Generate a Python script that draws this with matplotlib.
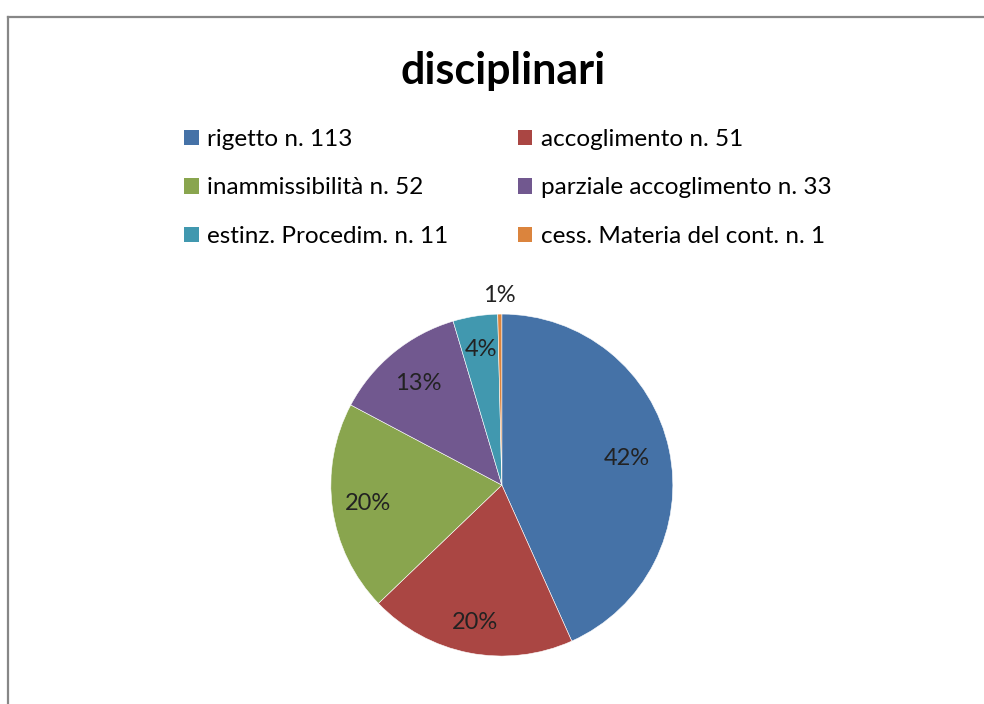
import matplotlib.pyplot as plt
from matplotlib.patches import Patch
from matplotlib.lines import Line2D
import numpy as np

plt.rcParams['font.family'] = ['Lato', 'DejaVu Sans']

labels = ['rigetto n. 113', 'accoglimento n. 51', 'inammissibilità n. 52',
          'parziale accoglimento n. 33', 'estinz. Procedim. n. 11',
          'cess. Materia del cont. n. 1']
values = [113, 51, 52, 33, 11, 1]
pct_labels = ['42%', '20%', '20%', '13%', '4%', '1%']
colors = ['#4572A7', '#AA4643', '#89A54E', '#71588F', '#4198AF', '#DB843D']
label_dist = [0.75, 0.82, 0.79, 0.77, 0.80, 1.11]

fig = plt.figure(figsize=(9.84, 7.04), dpi=100)

# chart frame (left and top edges visible)
fig.add_artist(Line2D([7.5 / 984, 7.5 / 984], [0, 1 - 16.5 / 704], color='#878787', lw=1.6))
fig.add_artist(Line2D([7.5 / 984, 1], [1 - 16.5 / 704, 1 - 16.5 / 704], color='#878787', lw=1.6))

ax = fig.add_axes([0.510 - 0.1738, 0.311 - 0.2429, 0.3476, 0.4858])
wedges, _ = ax.pie(values, colors=colors, startangle=90, counterclock=False,
                   wedgeprops=dict(edgecolor='white', linewidth=0.4))
ax.set_xlim(-1, 1)
ax.set_ylim(-1, 1)
ax.set_aspect('equal')

for w, txt, d in zip(wedges, pct_labels, label_dist):
    ang = np.deg2rad((w.theta1 + w.theta2) / 2)
    ax.text(d * np.cos(ang), d * np.sin(ang), txt, ha='center', va='center',
            fontsize=17, color='#222222', clip_on=False)

fig.text(0.511, 1 - 71 / 704, 'disciplinari', ha='center', va='center',
         fontsize=31, fontweight='bold', color='black')

handles = [Patch(facecolor=c, label=l) for c, l in zip(colors, labels)]
order = [0, 2, 4, 1, 3, 5]
fig.legend([handles[i] for i in order], [labels[i] for i in order],
           ncol=2, loc='upper left', bbox_to_anchor=(184 / 984, 1 - 129 / 704),
           frameon=False, fontsize=17.5, handlelength=0.6, handleheight=0.6,
           handletextpad=0.35, labelspacing=1.13, columnspacing=2.85,
           borderaxespad=0, borderpad=0)

fig.savefig('out.png', dpi=100)
